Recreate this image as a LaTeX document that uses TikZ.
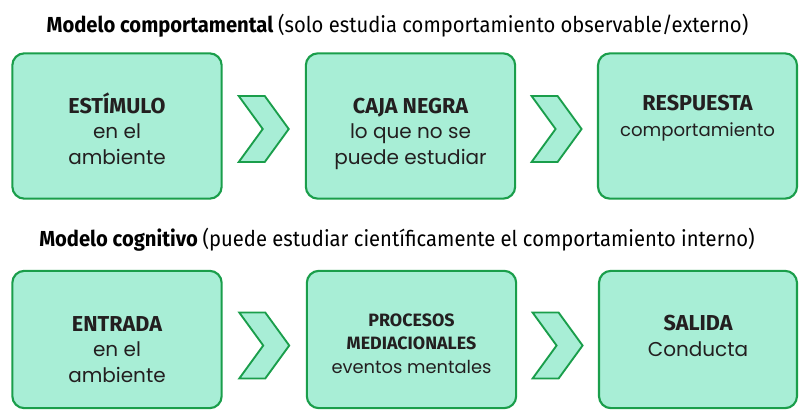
\documentclass[tikz,border=0pt]{standalone}
\usepackage{fontspec}
\setmainfont{Poppins}
\newfontfamily\titfont[FakeStretch=0.93]{Fira Sans}
\newfontfamily\cajafont{Fira Sans}
\usetikzlibrary{calc}

\definecolor{verdeborde}{HTML}{1A9E4B}
\definecolor{verdefondo}{HTML}{A8EED6}
\definecolor{textogris}{HTML}{231F20}

\tikzset{
  caja/.style={draw=verdeborde, fill=verdefondo, line width=1.6pt, rounded corners=9pt,
    minimum width=157pt, minimum height=109pt, inner sep=0pt},
  flecha/.style={draw=verdeborde, fill=verdefondo, line width=1.4pt, line join=miter},
  etiqueta/.style={anchor=base, align=center, inner sep=0pt, text=textogris,
    font=\fontsize{15}{19.1}\selectfont},
  titulo/.style={anchor=base, inner sep=0pt, text=black,
    font=\titfont\fontsize{16.3}{19}\selectfont},
  pics/chevron/.style={code={
    \draw[flecha] (-25,-33) -- (1,-33) -- (25,0) -- (1,33) -- (-25,33) -- (-1,0) -- cycle;
  }},
}
\newcommand{\negrita}[1]{{\cajafont\bfseries\fontsize{16.2}{19.1}\selectfont #1}}
\newcommand{\negchica}[1]{{\cajafont\bfseries\fontsize{13.4}{17.3}\selectfont #1}}
\newcommand{\chica}[1]{{\fontsize{13.6}{17.3}\selectfont #1}}

\begin{document}
\begin{tikzpicture}[x=0.75pt,y=0.75pt,yscale=-1,xscale=1]
    \useasboundingbox (0,0) rectangle (799,412);

    % Text Node
    \node[titulo] (titcomp) at (397.5,32) {\bfseries Modelo comportamental \mdseries(solo estudia comportamiento observable/externo)};
    % Text Node
    \node[titulo] (titcogn) at (397,246) {\bfseries Modelo cognitivo \mdseries(puede estudiar científicamente el comportamiento interno)};

    %Shape: Rounded Rect [modelo comportamental]
    \node[caja] (estimulo) at (117,126) {};
    \node[caja] (cajanegra) at (410.5,126) {};
    \node[caja, minimum width=149.25pt] (respuesta) at (697.5,126) {};
    %Shape: Rounded Rect [modelo cognitivo]
    \node[caja, minimum height=103pt] (entrada) at (117,339.5) {};
    \node[caja, minimum height=103pt] (procesos) at (411.5,339.5) {};
    \node[caja, minimum height=103pt, minimum width=148.5pt] (salida) at (698,339.5) {};

    %Shape: Chevron
    \coordinate (f1) at ($(estimulo.east)!0.5!(cajanegra.west)+(0,3)$);
    \coordinate (f2) at ($(cajanegra.east)!0.5!(respuesta.west)+(0,3)$);
    \coordinate (f3) at ($(entrada.east)!0.5!(procesos.west)+(0,6)$);
    \coordinate (f4) at ($(procesos.east)!0.5!(salida.west)+(0,6)$);
    \pic at (f1) {chevron};
    \pic at (f2) {chevron};
    \pic at (f3) {chevron};
    \pic at (f4) {chevron};

    % Text Node
    \node[etiqueta] (testimulo) at (estimulo.center |- 0,164) {\negrita{ESTÍMULO}\\en el\\ambiente};
    % Text Node
    \node[etiqueta] (tcajanegra) at (cajanegra.center |- 0,164) {\negrita{CAJA NEGRA}\\lo que no se\\puede estudiar};
    % Text Node
    \node[etiqueta] (trespuesta) at (respuesta.center |- 0,136) {\negrita{RESPUESTA}\\\chica{comportamiento}};
    % Text Node
    \node[etiqueta] (tentrada) at (entrada.center |- 0,382) {\negrita{ENTRADA}\\en el\\ambiente};
    % Text Node
    \node[etiqueta, font=\fontsize{13.4}{17.3}\selectfont] (tprocesos) at (procesos.center |- 0,373) {\negchica{PROCESOS}\\\negchica{MEDIACIONALES}\\eventos mentales};
    % Text Node
    \node[etiqueta] (tsalida) at (salida.center |- 0,356) {\negrita{SALIDA}\\Conducta};
\end{tikzpicture}
\end{document}
